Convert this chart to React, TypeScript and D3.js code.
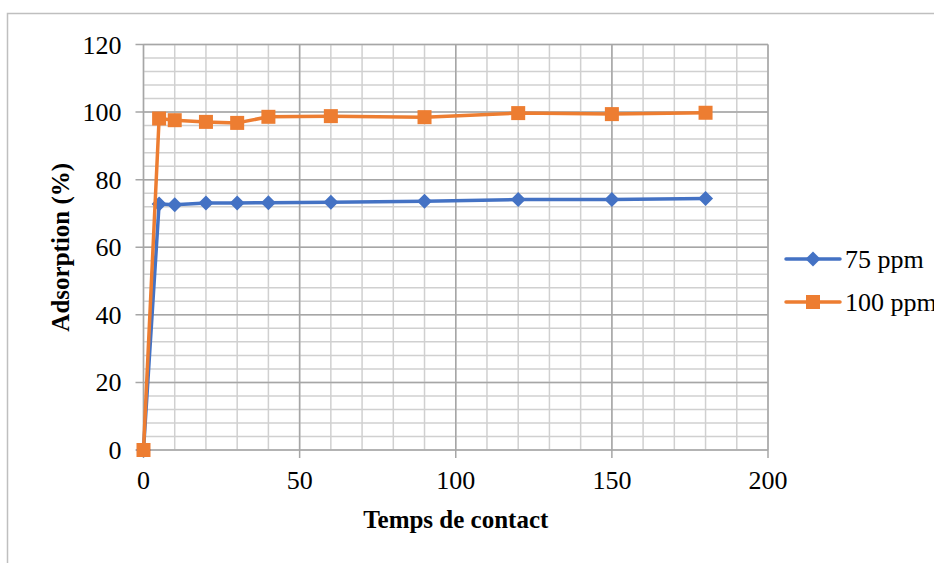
import React from 'react'
import * as d3 from 'd3'

const times = [0, 5, 10, 20, 30, 40, 60, 90, 120, 150, 180]
const ppm75 = [0, 72.8, 72.6, 73.1, 73.1, 73.2, 73.3, 73.6, 74.1, 74.1, 74.4]
const ppm100 = [0, 98.1, 97.6, 97.1, 96.8, 98.6, 98.8, 98.5, 99.7, 99.4, 99.8]
const xTicks = [0, 50, 100, 150, 200]
const yTicks = [0, 20, 40, 60, 80, 100, 120]

const W = 934
const H = 563
const margin = { left: 143.5, right: 934 - 768, top: 44.5, bottom: 563 - 450 }
const BLUE = '#4472C4'
const ORANGE = '#ED7D31'
const FONT = 'Liberation Serif'

function App() {
    const x = d3.scaleLinear().domain([0, 200]).range([margin.left, W - margin.right])
    const y = d3.scaleLinear().domain([0, 120]).range([H - margin.bottom, margin.top])

    const minorX = d3.range(0, 201, 10)
    const minorY = d3.range(0, 121, 4)

    const line = d3.line<[number, number]>().x(d => x(d[0])).y(d => y(d[1]))
    const blueData: [number, number][] = times.map((t, i) => [t, ppm75[i]])
    const orangeData: [number, number][] = times.map((t, i) => [t, ppm100[i]])

    const diamond = (cx: number, cy: number, r: number) =>
        `M${cx},${cy - r}L${cx + r},${cy}L${cx},${cy + r}L${cx - r},${cy}Z`

    const x0 = x(0), x1 = x(200), y0 = y(0), y1 = y(120)

    return (
        <svg width={W} height={H} style={{ position: 'absolute', left: 0, top: 0, background: '#fff', fontFamily: FONT }}>
            <rect x={7.5} y={13.5} width={W + 10} height={H + 10} fill="#fff" stroke="#bfbfbf" strokeWidth={1.5} />

            {minorX.map(v => (
                <line key={'mx' + v} x1={x(v)} x2={x(v)} y1={y1} y2={y0} stroke="#d0d0d0" strokeWidth={1.5} />
            ))}
            {minorY.map(v => (
                <line key={'my' + v} x1={x0} x2={x1} y1={y(v)} y2={y(v)} stroke="#d0d0d0" strokeWidth={1.5} />
            ))}
            {xTicks.map(v => (
                <line key={'Mx' + v} x1={x(v)} x2={x(v)} y1={y1} y2={y0 + 8} stroke="#a6a6a6" strokeWidth={1.5} />
            ))}
            {yTicks.map(v => (
                <line key={'My' + v} x1={x0 - 8} x2={x1} y1={y(v)} y2={y(v)} stroke="#a6a6a6" strokeWidth={1.5} />
            ))}

            {xTicks.map(v => (
                <text key={'tx' + v} x={x(v)} y={y0 + 39} textAnchor="middle" fontSize={26} fill="#000">{v}</text>
            ))}
            {yTicks.map(v => (
                <text key={'ty' + v} x={x0 - 22} y={y(v) + 9} textAnchor="end" fontSize={26} fill="#000">{v}</text>
            ))}

            <text x={(x0 + x1) / 2} y={528} textAnchor="middle" fontSize={25} fontWeight="bold" fill="#000">Temps de contact</text>
            <text transform={`translate(69,${(y0 + y1) / 2}) rotate(-90)`} textAnchor="middle" fontSize={25} fontWeight="bold" fill="#000">Adsorption (%)</text>

            <path d={line(blueData) || ''} fill="none" stroke={BLUE} strokeWidth={3.5} strokeLinejoin="round" />
            {blueData.map((d, i) => (
                <path key={'b' + i} d={diamond(x(d[0]), y(d[1]), 7.5)} fill={BLUE} />
            ))}
            <path d={line(orangeData) || ''} fill="none" stroke={ORANGE} strokeWidth={3.5} strokeLinejoin="round" />
            {orangeData.map((d, i) => (
                <rect key={'o' + i} x={x(d[0]) - 7} y={y(d[1]) - 7} width={14} height={14} fill={ORANGE} />
            ))}

            <g>
                <line x1={786} x2={840} y1={259} y2={259} stroke={BLUE} strokeWidth={3.5} strokeLinecap="round" />
                <path d={diamond(813, 259, 7.5)} fill={BLUE} />
                <text x={845} y={268} fontSize={26} fill="#000">75 ppm</text>
                <line x1={786} x2={840} y1={302} y2={302} stroke={ORANGE} strokeWidth={3.5} strokeLinecap="round" />
                <rect x={806} y={295} width={14} height={14} fill={ORANGE} />
                <text x={845} y={311} fontSize={26} fill="#000">100 ppm</text>
            </g>
        </svg>
    )
}

export default App
